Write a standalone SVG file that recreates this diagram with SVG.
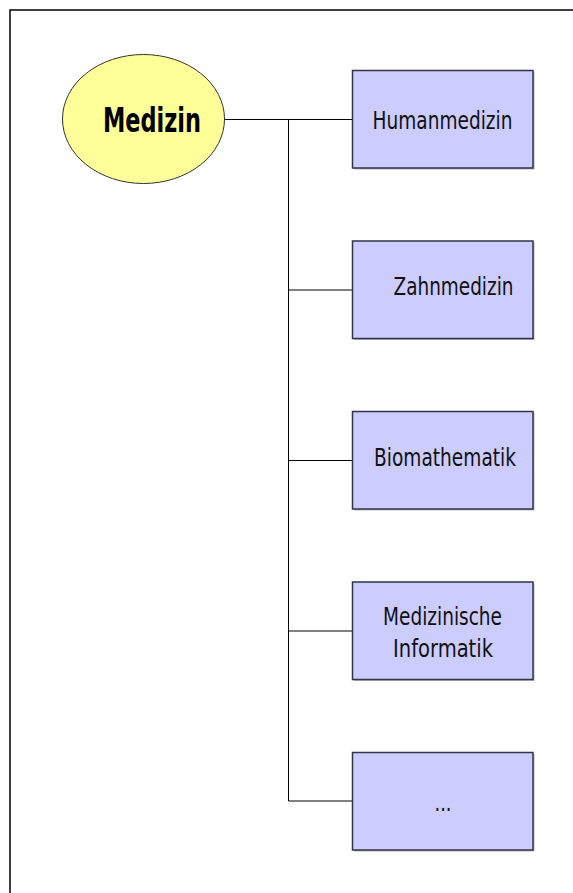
<svg xmlns="http://www.w3.org/2000/svg" width="573" height="893" viewBox="0 0 573 893">
  <style>
    .frame { fill: none; stroke: #000; stroke-width: 1.5; }
    .link { fill: none; stroke: #000; stroke-width: 1; }
    .box { fill: #ccccff; stroke: #33334a; stroke-width: 1.5; }
    .shadow { fill: #b8b8b8; }
    .root { fill: #ffff99; stroke: #333; stroke-width: 1; }
    .label { font-family: "DejaVu Sans", Verdana, sans-serif; font-size: 25px; fill: #111; text-anchor: middle; }
    .title { font-family: "DejaVu Sans", Verdana, sans-serif; font-size: 33px; font-weight: bold; fill: #000; text-anchor: middle; }
  </style>
  <rect width="573" height="893" fill="#fff"/>
  <path class="frame" d="M10,893 V10 H573"/>

  <g id="connectors">
    <path class="link" d="M225,119.5 H352.5"/>
    <path class="link" d="M288.5,119.5 V801"/>
    <path class="link" d="M288.5,290 H352.5"/>
    <path class="link" d="M288.5,460.5 H352.5"/>
    <path class="link" d="M288.5,631 H352.5"/>
    <path class="link" d="M288.5,801 H352.5"/>
  </g>

  <g id="medizin">
    <ellipse class="root" cx="143.5" cy="119" rx="81" ry="64.5"/>
    <text class="title" x="152" y="132" textLength="98" lengthAdjust="spacingAndGlyphs">Medizin</text>
  </g>

  <g id="humanmedizin">
    <rect class="shadow" x="354" y="72" width="180.5" height="97.5"/>
    <rect class="box" x="352.5" y="70.5" width="180.5" height="97.5"/>
    <text class="label" x="442.5" y="129" textLength="140" lengthAdjust="spacingAndGlyphs">Humanmedizin</text>
  </g>

  <g id="zahnmedizin">
    <rect class="shadow" x="354" y="242.5" width="180.5" height="97.5"/>
    <rect class="box" x="352.5" y="241" width="180.5" height="97.5"/>
    <text class="label" x="453.5" y="295" textLength="120" lengthAdjust="spacingAndGlyphs">Zahnmedizin</text>
  </g>

  <g id="biomathematik">
    <rect class="shadow" x="354" y="413" width="180.5" height="97.5"/>
    <rect class="box" x="352.5" y="411.5" width="180.5" height="97.5"/>
    <text class="label" x="445" y="466" textLength="142" lengthAdjust="spacingAndGlyphs">Biomathematik</text>
  </g>

  <g id="medizinische-informatik">
    <rect class="shadow" x="354" y="583.5" width="180.5" height="97.5"/>
    <rect class="box" x="352.5" y="582" width="180.5" height="97.5"/>
    <text class="label" x="442.5" y="625" textLength="119" lengthAdjust="spacingAndGlyphs">Medizinische</text>
    <text class="label" x="443" y="656.5" textLength="100" lengthAdjust="spacingAndGlyphs">Informatik</text>
  </g>

  <g id="weitere">
    <rect class="shadow" x="354" y="754" width="180.5" height="97.5"/>
    <rect class="box" x="352.5" y="752.5" width="180.5" height="97.5"/>
    <text class="label" x="443" y="811" textLength="17" lengthAdjust="spacingAndGlyphs">...</text>
  </g>
</svg>
